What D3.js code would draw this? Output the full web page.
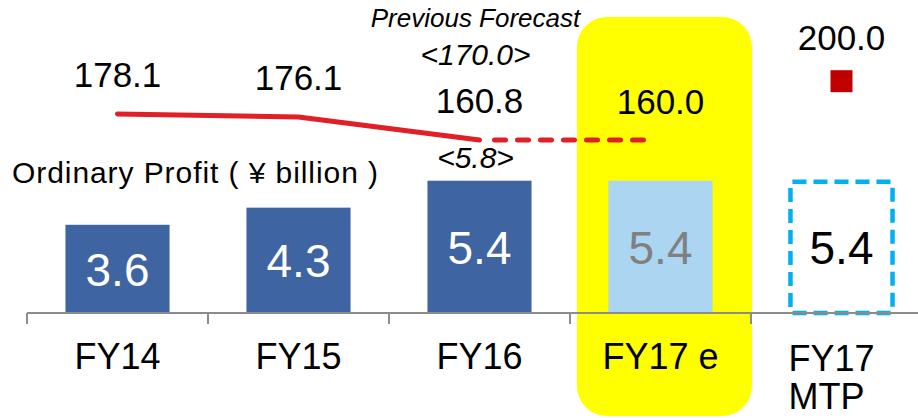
<!DOCTYPE html>
<html>
<head>
<meta charset="utf-8">
<script src="https://cdn.jsdelivr.net/npm/d3@7"></script>
<style>
  html, body { margin: 0; padding: 0; background: #fff; }
  svg { display: block; font-family: Arial, "Liberation Sans", sans-serif; }
</style>
</head>
<body>
<svg id="chart" width="918" height="418"></svg>
<script>
// Fiscal years on the x axis
const categories = ["FY14", "FY15", "FY16", "FY17 e", "FY17 MTP"];
// Ordinary profit (¥ billion) per year
const profit = [3.6, 4.3, 5.4, 5.4, 5.4];
// Revenue line (¥ billion): actuals + estimate, and the mid-term plan target
const revenue = [178.1, 176.1, 160.8, 160.0];
const revenueTarget = 200.0;
// Previous forecast figures shown above/below FY16
const prevForecastRevenue = 170.0;
const prevForecastProfit = 5.8;

const svg = d3.select("#chart");

const x = d3.scaleBand()
  .domain(categories)
  .range([27, 932])
  .paddingInner(0.425)
  .paddingOuter(0.2125);

const yBar = d3.scaleLinear().domain([0, 10]).range([313, 68]);
const yLine = d3.scaleLinear().domain([150, 200]).range([156.2, 81.2]);

const cx = c => x(c) + x.bandwidth() / 2;
const step = x.step();

// Highlight behind the estimate year
const hl = categories[3];
svg.append("rect")
  .attr("x", x(hl) - (step - x.bandwidth()) / 2 + 7)
  .attr("y", 17)
  .attr("width", step - 6)
  .attr("height", 399)
  .attr("rx", 30)
  .attr("fill", "#ffff00");

// Profit bars
const barFill = ["#3e64a2", "#3e64a2", "#3e64a2", "#abd5f0", "none"];
svg.selectAll("rect.bar")
  .data(profit.slice(0, 4))
  .join("rect")
  .attr("class", "bar")
  .attr("x", (d, i) => x(categories[i]))
  .attr("y", d => yBar(d))
  .attr("width", x.bandwidth())
  .attr("height", d => yBar(0) - yBar(d))
  .attr("fill", (d, i) => barFill[i]);

// Mid-term plan profit as a dashed outline
svg.append("rect")
  .attr("x", x(categories[4]) + 1)
  .attr("y", yBar(profit[4]) + 1)
  .attr("width", x.bandwidth() - 2)
  .attr("height", yBar(0) - yBar(profit[4]) - 1)
  .attr("rx", 2)
  .attr("fill", "none")
  .attr("stroke", "#00b0f0")
  .attr("stroke-width", 4.5)
  .attr("stroke-dasharray", "14,7");

// Bottom axis with ticks at the band edges
const axisG = svg.append("g").attr("stroke", "#8c8c8c").attr("stroke-width", 2);
axisG.append("line")
  .attr("x1", x.range()[0]).attr("x2", 918)
  .attr("y1", yBar(0)).attr("y2", yBar(0));
d3.range(categories.length).forEach(i => {
  const tx = x.range()[0] + i * step;
  axisG.append("line")
    .attr("x1", tx).attr("x2", tx)
    .attr("y1", yBar(0)).attr("y2", yBar(0) + 11);
});

// Category labels
categories.forEach((c, i) => {
  if (i < 4) {
    svg.append("text")
      .attr("x", cx(c)).attr("y", 369)
      .attr("text-anchor", "middle")
      .attr("font-size", 36)
      .attr("fill", "#000")
      .text(c);
  } else {
    const t = svg.append("text")
      .attr("x", x(c) - 1).attr("y", 371)
      .attr("font-size", 36)
      .attr("fill", "#000");
    t.append("tspan").attr("x", x(c) - 1).text("FY17");
    t.append("tspan").attr("x", x(c) - 1).attr("dy", 38).text("MTP");
  }
});

// Profit values centred in the bars
const valFill = ["#fff", "#fff", "#fff", "#808080", "#000"];
profit.forEach((v, i) => {
  const mid = (yBar(v) + yBar(0)) / 2;
  svg.append("text")
    .attr("x", cx(categories[i]))
    .attr("y", mid + 17)
    .attr("text-anchor", "middle")
    .attr("font-size", 46)
    .attr("fill", valFill[i])
    .text(v.toFixed(1));
});

// Revenue line: solid for actuals, dashed into the estimate
const line = d3.line().x(d => d[0]).y(d => d[1]);
const pts = revenue.map((v, i) => [cx(categories[i]), yLine(v)]);
svg.append("path")
  .attr("d", line(pts.slice(0, 3)))
  .attr("fill", "none")
  .attr("stroke", "#e01f26")
  .attr("stroke-width", 5)
  .attr("stroke-linecap", "round")
  .attr("stroke-linejoin", "round");
svg.append("path")
  .attr("d", line([[pts[2][0] + 15, pts[2][1]], [pts[3][0] - 8, pts[2][1]]]))
  .attr("fill", "none")
  .attr("stroke", "#e01f26")
  .attr("stroke-width", 5)
  .attr("stroke-linecap", "round")
  .attr("stroke-dasharray", "11,12");

// Revenue values above the line
revenue.forEach((v, i) => {
  svg.append("text")
    .attr("x", cx(categories[i]))
    .attr("y", yLine(v) - 27)
    .attr("text-anchor", "middle")
    .attr("font-size", 35)
    .attr("fill", "#000")
    .text(v.toFixed(1));
});

// Target marker
const mx = cx(categories[4]), my = yLine(revenueTarget);
svg.append("rect")
  .attr("x", mx - 11).attr("y", my - 11)
  .attr("width", 22).attr("height", 22)
  .attr("fill", "#c00000");
svg.append("text")
  .attr("x", mx).attr("y", my - 31)
  .attr("text-anchor", "middle")
  .attr("font-size", 35)
  .attr("fill", "#000")
  .text(revenueTarget.toFixed(1));

// Previous forecast annotations
const px = cx(categories[2]) - 4;
svg.append("text")
  .attr("x", px).attr("y", 27)
  .attr("text-anchor", "middle")
  .attr("font-size", 26).attr("font-style", "italic")
  .text("Previous Forecast");
svg.append("text")
  .attr("x", px).attr("y", 65)
  .attr("text-anchor", "middle")
  .attr("font-size", 30).attr("font-style", "italic")
  .text("<" + prevForecastRevenue.toFixed(1) + ">");
svg.append("text")
  .attr("x", px).attr("y", 168)
  .attr("text-anchor", "middle")
  .attr("font-size", 30).attr("font-style", "italic")
  .text("<" + prevForecastProfit.toFixed(1) + ">");

// Series title
svg.append("text")
  .attr("x", 12).attr("y", 183)
  .attr("font-size", 30)
  .attr("textLength", 366)
  .attr("lengthAdjust", "spacing")
  .attr("fill", "#000")
  .text("Ordinary Profit ( ¥ billion )");
</script>
</body>
</html>
